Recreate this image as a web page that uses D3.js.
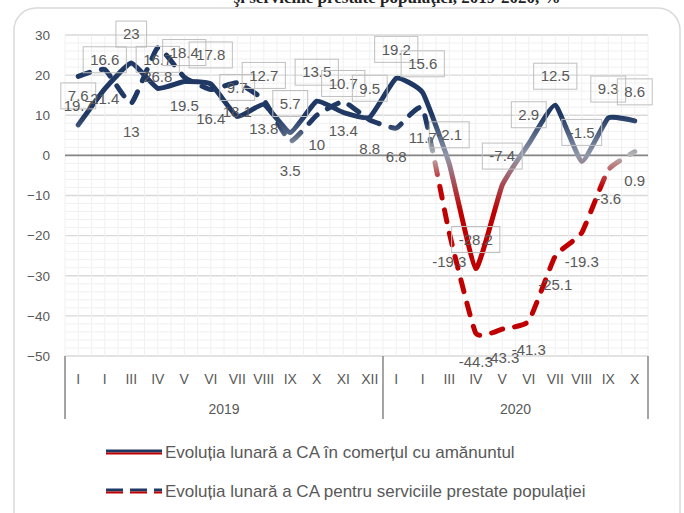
<!-- Evolutia lunara a CA, 2019-2020 -->
<style>body { margin: 0; }</style>
<svg width="684" height="513"></svg>
<script src="https://d3js.org/d3.v7.min.js"></script>
<script>
const months = ["I","I","III","IV","V","VI","VII","VIII","IX","X","XI","XII",
                "I","I","III","IV","V","VI","VII","VIII","IX","X"];
const years = [{ label: "2019", n: 12 }, { label: "2020", n: 10 }];
const retail = [7.6, 16.6, 23, 16.7, 18.4, 17.8, 9.7, 12.7, 5.7, 13.5, 10.7, 9.5,
                19.2, 15.6, -2.1, -28.2, -7.4, 2.9, 12.5, -1.5, 9.3, 8.6];
const services = [19.7, 21.4, 13, 26.8, 19.5, 16.4, 18.1, 13.8, 3.5, 10, 13.4, 8.8,
                  6.8, 11.7, -19.3, -44.3, -43.3, -41.3, -25.1, -19.3, -3.6, 0.9];
const yTicks = [30, 20, 10, 0, -10, -20, -30, -40, -50];
const legendNames = ["Evoluția lunară a CA în comerțul cu amănuntul",
                     "Evoluția lunară a CA pentru serviciile prestate populației"];

const svg = d3.select("svg");
const grey = "#595959", navy = "#1f3864", red = "#c00000";

// title (cut off at the top in the original)
svg.append("text").attr("x", 397).attr("y", 3).attr("text-anchor", "middle")
  .attr("font-family", "Liberation Serif").attr("font-weight", "bold").attr("font-size", 17)
  .attr("fill", "#222").text("şi serviciile prestate populaţiei, 2019-2020, %");

// chart frame
svg.append("rect").attr("x", 14).attr("y", 8).attr("width", 666).attr("height", 530)
  .attr("rx", 22).attr("fill", "none").attr("stroke", "#d9d9d9").attr("stroke-width", 1.5);

const idx = d3.range(months.length);
const x = d3.scaleBand().domain(idx).range([65, 648]);
const y = d3.scaleLinear().domain([-50, 30]).range([356, 35]);
const cx = i => x(i) + x.bandwidth() / 2;

// grid
const grid = svg.append("g");
d3.range(-50, 31, 2).forEach(v => {
  grid.append("line").attr("x1", 65).attr("x2", 648).attr("y1", y(v)).attr("y2", y(v))
    .attr("stroke", v % 10 === 0 ? "#d9d9d9" : "#f0f0f0").attr("stroke-width", v % 10 === 0 ? 1.3 : 1);
});
d3.range(0, months.length * 2 + 1).forEach(k => {
  const xx = 65 + k * x.bandwidth() / 2;
  grid.append("line").attr("x1", xx).attr("x2", xx).attr("y1", y(30)).attr("y2", y(-50))
    .attr("stroke", "#f0f0f0");
});
grid.append("line").attr("x1", 65).attr("x2", 648).attr("y1", y(0)).attr("y2", y(0))
  .attr("stroke", "#868686").attr("stroke-width", 1.6);

// y axis
const yAxis = svg.append("g").attr("transform", "translate(52,0)")
  .call(d3.axisLeft(y).tickValues(yTicks).tickSize(0).tickPadding(2));
yAxis.select(".domain").remove();
yAxis.selectAll("text").attr("font-family", "Liberation Sans").attr("font-size", 13.5).attr("fill", grey);

// x axis (two levels)
const xAxis = svg.append("g").attr("transform", "translate(0,371)")
  .call(d3.axisBottom(x).tickFormat(i => months[i]).tickSize(0));
xAxis.select(".domain").remove();
xAxis.selectAll("text").attr("font-family", "Liberation Sans").attr("font-size", 14).attr("fill", grey);

let start = 0;
const seps = [x(0)];
years.forEach(yr => {
  const a = x(start), b = x(start + yr.n - 1) + x.bandwidth();
  seps.push(b);
  svg.append("text").attr("x", (a + b) / 2).attr("y", 414).attr("text-anchor", "middle")
    .attr("font-family", "Liberation Sans").attr("font-size", 14).attr("fill", grey).text(yr.label);
  start += yr.n;
});
seps.forEach(s => svg.append("line").attr("x1", s).attr("x2", s).attr("y1", 356).attr("y2", 419)
  .attr("stroke", "#868686").attr("stroke-width", 1.5));

// gradients along value
const defs = svg.append("defs");
function grad(id, top, bottom, stops) {
  const g = defs.append("linearGradient").attr("id", id).attr("gradientUnits", "userSpaceOnUse")
    .attr("x1", 0).attr("x2", 0).attr("y1", y(top)).attr("y2", y(bottom));
  stops.forEach(s => g.append("stop").attr("offset", s[0]).attr("stop-color", s[1]));
}
grad("gSolid", 10, -14, [[0, navy], [0.42, "#9099aa"], [1, red]]);
grad("gDash", 8, -8, [[0, navy], [0.5, "#b8b8b8"], [1, red]]);

const line = d3.line().x((d, i) => cx(i)).y(d => y(d)).curve(d3.curveCardinal.tension(0.6));

svg.append("path").datum(services).attr("d", line).attr("fill", "none")
  .attr("stroke", "url(#gDash)").attr("stroke-width", 5).attr("stroke-linecap", "round")
  .attr("stroke-linejoin", "round").attr("stroke-dasharray", "12,12");
svg.append("path").datum(retail).attr("d", line).attr("fill", "none")
  .attr("stroke", "url(#gSolid)").attr("stroke-width", 5).attr("stroke-linecap", "round")
  .attr("stroke-linejoin", "round");

// data labels
const lab = svg.append("g").attr("font-family", "Liberation Sans").attr("font-size", 15)
  .attr("fill", grey).attr("text-anchor", "middle");
retail.forEach((v, i) => {
  const t = lab.append("text").attr("x", cx(i)).attr("y", y(v) - 29).attr("dy", "0.35em").text(v);
  const w = t.node().getComputedTextLength() + 14;
  lab.append("rect").attr("x", cx(i) - w / 2).attr("y", y(v) - 42).attr("width", w).attr("height", 26)
    .attr("fill", "none").attr("stroke", "#bfbfbf");
});
services.forEach((v, i) => {
  lab.append("text").attr("x", cx(i)).attr("y", y(v) + 29).attr("dy", "0.35em").text(v);
});

// legend
const leg = svg.append("g");
[452, 491].forEach((ly, k) => {
  const dash = k === 1 ? "17,7" : null;
  leg.append("line").attr("x1", 106).attr("x2", 162).attr("y1", ly - 1).attr("y2", ly - 1)
    .attr("stroke", navy).attr("stroke-width", 3).attr("stroke-dasharray", dash);
  leg.append("line").attr("x1", 106).attr("x2", 162).attr("y1", ly + 1.5).attr("y2", ly + 1.5)
    .attr("stroke", red).attr("stroke-width", 2).attr("stroke-dasharray", dash);
  leg.append("text").attr("x", 165).attr("y", ly).attr("dy", "0.35em")
    .attr("font-family", "Liberation Sans").attr("font-size", 17).attr("fill", grey)
    .text(legendNames[k]);
});
</script>
